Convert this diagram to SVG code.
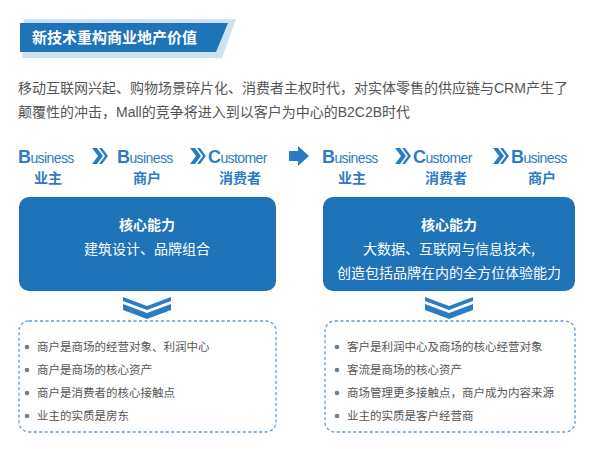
<svg xmlns="http://www.w3.org/2000/svg" width="603" height="449" viewBox="0 0 603 449">
<style>
.cn{font-family:"Liberation Sans","Noto Sans CJK SC",sans-serif}
.flow{font-family:"Liberation Sans","Noto Sans CJK SC",sans-serif;fill:#2a7cc4;font-size:14px;letter-spacing:-0.6px}
.big{font-size:18px;font-weight:bold}
.sub{font-family:"Noto Sans CJK SC",sans-serif;fill:#2a7cc4;font-weight:bold;font-size:14px;text-anchor:middle}
.box{fill:#1e73b9}
.wt{font-family:"Noto Sans CJK SC",sans-serif;fill:#fff;font-size:14px;text-anchor:middle}
.dash{fill:none;stroke:#5b9bd1;stroke-width:1.3;stroke-dasharray:3 2.5}
.li{font-family:"Noto Sans CJK SC",sans-serif;fill:#555;font-size:11.5px}
.dot{fill:#6a7f92}
.chev{fill:#2a7cc4}
</style>
<g id="header">
<polygon points="24,19 236,19 222,58 22,58" fill="#cfe2f3"/>
<polygon points="20,23 228,23 216,52 20,52" fill="#1e73b9"/>
<text x="32" y="43" class="cn" fill="#fff" font-size="15" font-weight="bold">新技术重构商业地产价值</text>
</g>
<g id="intro" class="cn" fill="#555" font-size="14">
<text x="18" y="93">移动互联网兴起、购物场景碎片化、消费者主权时代，对实体零售的供应链与CRM产生了</text>
<text x="18" y="117">颠覆性的冲击，Mall的竞争将进入到以客户为中心的B2C2B时代</text>
</g>
<g id="flow">
<text x="18" y="163" class="flow"><tspan class="big">B</tspan>usiness</text>
<text x="48" y="183" class="sub">业主</text>
<text x="117" y="163" class="flow"><tspan class="big">B</tspan>usiness</text>
<text x="147" y="183" class="sub">商户</text>
<text x="208" y="163" class="flow"><tspan class="big">C</tspan>ustomer</text>
<text x="240" y="183" class="sub">消费者</text>
<text x="322" y="163" class="flow"><tspan class="big">B</tspan>usiness</text>
<text x="352" y="183" class="sub">业主</text>
<text x="413" y="163" class="flow"><tspan class="big">C</tspan>ustomer</text>
<text x="446" y="183" class="sub">消费者</text>
<text x="511" y="163" class="flow"><tspan class="big">B</tspan>usiness</text>
<text x="542" y="183" class="sub">商户</text>
</g>
<g id="connectors">
<g class="chev">
<path d="M92,150 h5 l6,8 l-6,8 h-5 l6,-8z M99,150 h3 l6,8 l-6,8 h-3 l6,-8z" transform="translate(0,-2)"/>
<path d="M190,150 h5 l6,8 l-6,8 h-5 l6,-8z M197,150 h3 l6,8 l-6,8 h-3 l6,-8z" transform="translate(0,-2)"/>
<path d="M395,150 h5 l6,8 l-6,8 h-5 l6,-8z M402,150 h3 l6,8 l-6,8 h-3 l6,-8z" transform="translate(0,-2)"/>
<path d="M493,150 h5 l6,8 l-6,8 h-5 l6,-8z M500,150 h3 l6,8 l-6,8 h-3 l6,-8z" transform="translate(0,-2)"/>
<polygon points="289,151 298,151 298,146 309,156 298,166 298,161 289,161"/>
<polygon points="123,297 147,306 171,297 171,301 147,310 123,301"/>
<polygon points="123,304 147,313 171,304 171,310 147,319 123,310"/>
<polygon points="425,297 449,306 473,297 473,301 449,310 425,301"/>
<polygon points="425,304 449,313 473,304 473,310 449,319 425,310"/>
</g>
</g>
<g id="left-core">
<rect x="19" y="197" width="257" height="94" rx="10" class="box"/>
<text x="147" y="230" class="wt" font-weight="bold">核心能力</text>
<text x="147" y="254" class="wt">建筑设计、品牌组合</text>
</g>
<g id="right-core">
<rect x="323" y="197" width="252" height="94" rx="10" class="box"/>
<text x="449" y="230" class="wt" font-weight="bold">核心能力</text>
<text x="449" y="254" class="wt">大数据、互联网与信息技术,</text>
<text x="449" y="278" class="wt">创造包括品牌在内的全方位体验能力</text>
</g>
<g id="left-list">
<rect x="19" y="321" width="257" height="111" rx="10" class="dash"/>
<g class="dot"><circle cx="27" cy="347" r="2.3"/><circle cx="27" cy="370" r="2.3"/><circle cx="27" cy="393" r="2.3"/><circle cx="27" cy="416" r="2.3"/></g>
<text x="37" y="351" class="li">商户是商场的经营对象、利润中心</text>
<text x="37" y="374" class="li">商户是商场的核心资产</text>
<text x="37" y="397" class="li">商户是消费者的核心接触点</text>
<text x="37" y="420" class="li">业主的实质是房东</text>
</g>
<g id="right-list">
<rect x="325" y="321" width="250" height="111" rx="10" class="dash"/>
<g class="dot"><circle cx="337" cy="347" r="2.3"/><circle cx="337" cy="370" r="2.3"/><circle cx="337" cy="393" r="2.3"/><circle cx="337" cy="416" r="2.3"/></g>
<text x="347" y="351" class="li">客户是利润中心及商场的核心经营对象</text>
<text x="347" y="374" class="li">客流是商场的核心资产</text>
<text x="347" y="397" class="li">商场管理更多接触点，商户成为内容来源</text>
<text x="347" y="420" class="li">业主的实质是客户经营商</text>
</g>
</svg>
